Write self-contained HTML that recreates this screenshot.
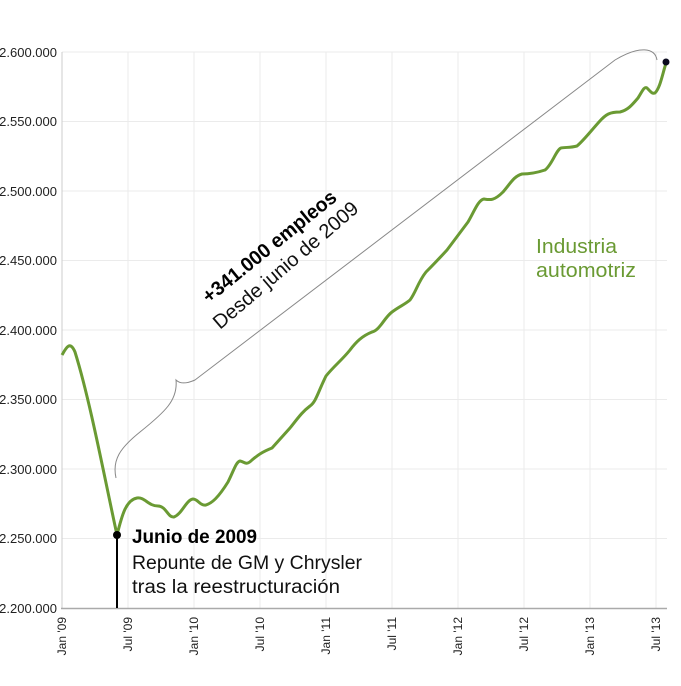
<!DOCTYPE html>
<html><head><meta charset="utf-8"><style>body{margin:0;background:#fff}svg{display:block}</style></head>
<body>
<svg width="681" height="686" xmlns="http://www.w3.org/2000/svg" font-family="'Liberation Sans Narrow','Liberation Sans',sans-serif">
<g stroke="#ebebeb" stroke-width="1">
<line x1="62" y1="52" x2="667" y2="52"/><line x1="62" y1="121.5" x2="667" y2="121.5"/><line x1="62" y1="191" x2="667" y2="191"/><line x1="62" y1="260.5" x2="667" y2="260.5"/><line x1="62" y1="330" x2="667" y2="330"/><line x1="62" y1="399.5" x2="667" y2="399.5"/><line x1="62" y1="469" x2="667" y2="469"/><line x1="62" y1="538.5" x2="667" y2="538.5"/>
<line x1="128" y1="52" x2="128" y2="608"/><line x1="194" y1="52" x2="194" y2="608"/><line x1="260" y1="52" x2="260" y2="608"/><line x1="326" y1="52" x2="326" y2="608"/><line x1="392" y1="52" x2="392" y2="608"/><line x1="458" y1="52" x2="458" y2="608"/><line x1="524" y1="52" x2="524" y2="608"/><line x1="590" y1="52" x2="590" y2="608"/><line x1="656" y1="52" x2="656" y2="608"/>
</g>
<line x1="62" y1="52" x2="62" y2="608" stroke="#ccc"/>
<line x1="61" y1="608.5" x2="667" y2="608.5" stroke="#aaa" stroke-width="1.5"/>
<g font-size="13" fill="#222" text-anchor="end">
<text x="57" y="57">2.600.000</text><text x="57" y="126">2.550.000</text><text x="57" y="196">2.500.000</text><text x="57" y="265">2.450.000</text><text x="57" y="335">2.400.000</text><text x="57" y="404">2.350.000</text><text x="57" y="474">2.300.000</text><text x="57" y="543">2.250.000</text><text x="57" y="613">2.200.000</text>
</g>
<g font-size="12" fill="#222" text-anchor="end">
<text transform="translate(66,617) rotate(-90)">Jan '09</text>
<text transform="translate(132,617) rotate(-90)">Jul '09</text>
<text transform="translate(198,617) rotate(-90)">Jan '10</text>
<text transform="translate(264,617) rotate(-90)">Jul '10</text>
<text transform="translate(330,617) rotate(-90)">Jan '11</text>
<text transform="translate(396,617) rotate(-90)">Jul '11</text>
<text transform="translate(462,617) rotate(-90)">Jan '12</text>
<text transform="translate(528,617) rotate(-90)">Jul '12</text>
<text transform="translate(594,617) rotate(-90)">Jan '13</text>
<text transform="translate(660,617) rotate(-90)">Jul '13</text>
</g>
<path d="M116,478 C112,460 120,448 140,432 C165,412 178,400 176,380 C180,384 186,384 195,380 L615,60 C640,45 655,48 657,60" fill="none" stroke="#888" stroke-width="1"/>
<path d="M62,355 C66,348 70,340 75,352 C90,400 105,480 117,535 C122,515 126,500 137,498 C145,497 148,506 158,506 C166,506 168,518 174,517 C182,514 186,500 193,499 C198,499 200,506 206,505 C212,503 218,498 228,482 C234,470 236,462 240,461 C245,462 246,466 252,460 C258,455 262,452 272,448 L290,428 C298,418 302,412 310,406 C316,402 318,392 326,376 C334,366 342,360 350,350 C356,342 362,336 372,332 C380,330 384,318 392,312 C400,306 404,305 410,300 C416,292 418,282 426,272 C432,266 436,262 447,250 L468,222 C474,212 478,200 484,199 C490,200 494,201 503,192 C510,184 514,176 522,174 C530,174 536,173 545,170 C552,165 556,150 561,148 C566,147 570,148 577,146 C584,140 590,132 599,122 C606,114 610,112 620,112 C628,110 632,105 638,98 C642,92 644,86 647,88 C651,92 652,94 655,93 C660,88 662,76 666,63" fill="none" stroke="#6a9a33" stroke-width="3" stroke-linejoin="round"/>
<line x1="117" y1="535" x2="117" y2="608" stroke="#000" stroke-width="2"/>
<circle cx="117" cy="535" r="4" fill="#000"/>
<circle cx="666" cy="62" r="3.5" fill="#0a0a1e"/>
<text x="132" y="543" font-size="19" font-weight="bold" fill="#000" textLength="125" lengthAdjust="spacingAndGlyphs">Junio de 2009</text>
<text x="132" y="569" font-size="19" fill="#111" textLength="230" lengthAdjust="spacingAndGlyphs">Repunte de GM y Chrysler</text>
<text x="132" y="593" font-size="19" fill="#111" textLength="208" lengthAdjust="spacingAndGlyphs">tras la reestructuración</text>
<text x="536" y="253" font-size="20" fill="#6a9a33" textLength="81" lengthAdjust="spacingAndGlyphs">Industria</text>
<text x="536" y="277" font-size="20" fill="#6a9a33" textLength="100" lengthAdjust="spacingAndGlyphs">automotriz</text>
<text transform="translate(209,304) rotate(-39)" font-size="20" font-weight="bold" fill="#000" textLength="166" lengthAdjust="spacingAndGlyphs">+341.000 empleos</text>
<text transform="translate(220,330) rotate(-40.5)" font-size="20" fill="#111" textLength="184" lengthAdjust="spacingAndGlyphs">Desde junio de 2009</text>
</svg>
</body></html>
